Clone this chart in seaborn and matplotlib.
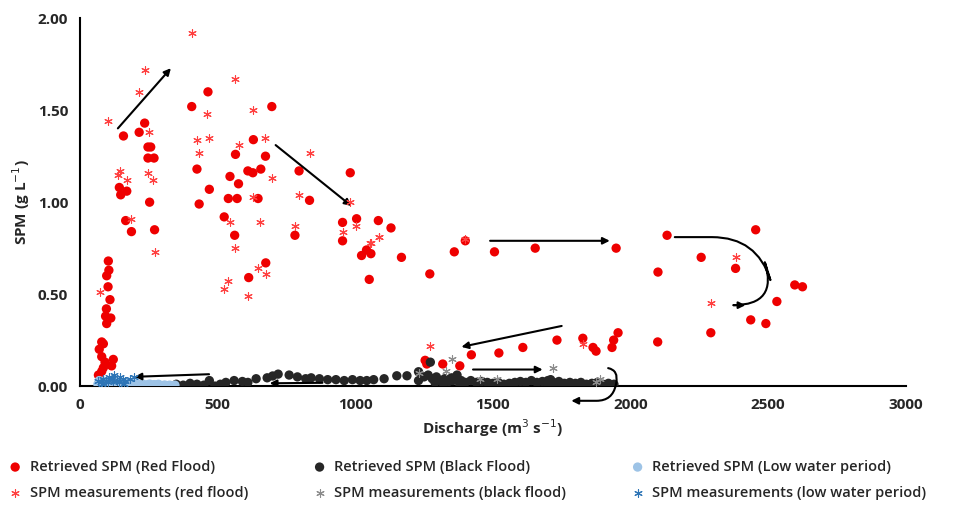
import numpy as np
import pandas as pd
import matplotlib
matplotlib.use('Agg')
import matplotlib.pyplot as plt
import seaborn as sns

# Retrieved SPM (Red Flood)
red_x = [158, 215, 235, 247, 257, 247, 269, 253, 271, 143, 148, 170, 166, 187,
         406, 465, 425, 433, 470, 524, 545, 539, 571, 576, 565, 562, 610, 628, 630,
         657, 674, 647, 697, 675, 613, 796, 834, 781, 982, 954, 954, 1005, 1084,
         1023, 1041, 1057, 1051, 1130, 1168, 1271, 1360, 1400, 1506, 1654, 1948,
         2133, 2100, 2455, 2257, 2382, 2597, 2625, 2532, 2437, 2492, 2292, 2099,
         1254, 1260, 1318, 1380, 1422, 1522, 1609, 1733, 1827, 1864, 1875, 1933,
         1939, 1955,
         103, 105, 97, 102, 109, 96, 93, 112, 97, 79, 85, 70, 79, 91, 121, 115, 79, 85, 67]
red_y = [1.36, 1.38, 1.43, 1.30, 1.30, 1.24, 1.24, 1.00, 0.85, 1.08, 1.04, 1.06, 0.90, 0.84,
         1.52, 1.60, 1.18, 0.99, 1.07, 0.92, 1.14, 1.02, 1.02, 1.10, 1.26, 0.82, 1.17, 1.16, 1.34,
         1.18, 1.25, 1.02, 1.52, 0.67, 0.59, 1.17, 1.01, 0.82, 1.16, 0.89, 0.79, 0.91, 0.90,
         0.71, 0.74, 0.72, 0.58, 0.86, 0.70, 0.61, 0.73, 0.79, 0.73, 0.75, 0.75,
         0.82, 0.62, 0.85, 0.70, 0.64, 0.55, 0.54, 0.46, 0.36, 0.34, 0.29, 0.24,
         0.14, 0.12, 0.12, 0.11, 0.17, 0.18, 0.21, 0.25, 0.26, 0.21, 0.19, 0.21,
         0.25, 0.29,
         0.68, 0.63, 0.60, 0.54, 0.47, 0.42, 0.38, 0.37, 0.34, 0.24, 0.23, 0.20, 0.16, 0.13,
         0.145, 0.11, 0.08, 0.10, 0.06]

# SPM measurements (red flood)
redm_x = [103, 213, 235, 406, 250, 248, 267, 139, 145, 170, 187, 271, 73, 463, 468,
          425, 432, 562, 576, 629, 673, 697, 628, 545, 655, 562, 539, 522, 648, 675,
          612, 834, 796, 781, 982, 954, 1004, 1057, 1085, 1055, 1088, 1400, 1273,
          1826, 2382, 2291]
redm_y = [1.44, 1.60, 1.72, 1.92, 1.38, 1.16, 1.12, 1.15, 1.17, 1.12, 0.91, 0.73, 0.51,
          1.48, 1.35, 1.34, 1.27, 1.67, 1.31, 1.50, 1.35, 1.13, 1.03, 0.89, 0.89, 0.75,
          0.57, 0.53, 0.64, 0.61, 0.49, 1.27, 1.04, 0.87, 1.00, 0.84, 0.87, 0.78, 0.81,
          0.78, 0.81, 0.80, 0.22, 0.23, 0.70, 0.45]

# Retrieved SPM (Black Flood)
black_x = [350, 375, 400, 425, 450, 470, 490, 510, 530, 560, 590, 610, 640, 680, 700,
           720, 760, 790, 820, 840, 870, 900, 930, 960, 990, 1018, 1042, 1067, 1105, 1151,
           1188, 1230, 1230, 1250, 1273, 1265, 1280, 1295, 1310, 1325, 1340, 1355, 1370,
           1385, 1400, 1420, 1440, 1460, 1480, 1500, 1520, 1540, 1560, 1580, 1600, 1620,
           1640, 1660, 1680, 1700, 1720, 1740, 1760, 1780, 1800, 1820, 1840, 1860, 1880,
           1900, 1920, 1940, 1290, 1320, 1350, 1380, 1700, 1710, 1730, 1850, 1870, 1910]
black_y = [0.01, 0.005, 0.015, 0.01, 0.005, 0.03, 0.00, 0.01, 0.02, 0.03, 0.025, 0.02,
           0.04, 0.045, 0.055, 0.065, 0.06, 0.05, 0.04, 0.045, 0.04, 0.035, 0.035, 0.03,
           0.035, 0.03, 0.03, 0.035, 0.04, 0.056, 0.056, 0.078, 0.03, 0.05, 0.13, 0.06,
           0.04, 0.05, 0.03, 0.04, 0.025, 0.03, 0.06, 0.03, 0.02, 0.03, 0.02, 0.025,
           0.02, 0.015, 0.02, 0.01, 0.015, 0.02, 0.025, 0.02, 0.03, 0.02, 0.025, 0.03,
           0.02, 0.025, 0.015, 0.02, 0.015, 0.02, 0.01, 0.015, 0.02, 0.01, 0.015, 0.01,
           0.02, 0.015, 0.045, 0.01, 0.01, 0.035, 0.005, 0.005, 0.01, 0.005]

# SPM measurements (black flood)
blackm_x = [1351, 1233, 1331, 1454, 1514, 1717, 1891, 1875]
blackm_y = [0.145, 0.07, 0.08, 0.036, 0.04, 0.10, 0.04, 0.02]

# Retrieved SPM (Low water period)
low_x = [65, 75, 85, 95, 105, 115, 125, 135, 145, 155, 165, 175, 185, 195, 205, 215,
         225, 235, 245, 255, 265, 275, 285, 295, 305, 315, 325, 335, 345, 70, 90, 110,
         130, 150, 170, 190, 210, 230, 250, 270, 290, 310, 330]
low_y = [0.01, 0.02, 0.0, 0.015, 0.01, 0.02, 0.005, 0.01, 0.015, 0.0, 0.01, 0.005,
         0.01, 0.0, 0.01, 0.005, 0.01, 0.0, 0.005, 0.01, 0.0, 0.005, 0.01, 0.0, 0.005,
         0.0, 0.005, 0.0, 0.005, 0.03, 0.025, 0.03, 0.02, 0.02, 0.015, 0.015, 0.012,
         0.01, 0.01, 0.008, 0.005, 0.005, 0.003]

# SPM measurements (low water period)
lowm_x = [65, 75, 85, 95, 105, 115, 125, 135, 145, 155, 165, 180, 195, 80, 100, 120, 140, 160]
lowm_y = [0.03, 0.02, 0.04, 0.03, 0.05, 0.04, 0.06, 0.03, 0.05, 0.04, 0.03, 0.04, 0.05,
          0.01, 0.02, 0.03, 0.02, 0.01]

sns.set_style('white')
plt.rcParams['font.family'] = ['Open Sans', 'DejaVu Sans']

fig = plt.figure(figsize=(9.59, 5.08), dpi=100)
ax = fig.add_axes([0.0834, 0.240, 0.861, 0.724])

star = (6, 2, 0)
sns.scatterplot(x=red_x, y=red_y, ax=ax, color='#ee0000', s=45, edgecolor='none',
                label='Retrieved SPM (Red Flood)', zorder=3)
sns.scatterplot(x=black_x, y=black_y, ax=ax, color='#262626', s=45, edgecolor='none',
                label='Retrieved SPM (Black Flood)', zorder=3)
sns.scatterplot(x=low_x, y=low_y, ax=ax, color='#9dc3e6', s=45, edgecolor='none',
                label='Retrieved SPM (Low water period)', zorder=3)
sns.scatterplot(x=redm_x, y=redm_y, ax=ax, color='#ff4040', s=30, marker=star,
                linewidth=0.8, label='SPM measurements (red flood)', zorder=4)
sns.scatterplot(x=blackm_x, y=blackm_y, ax=ax, color='#8c8c8c', s=30, marker=star,
                linewidth=0.8, label='SPM measurements (black flood)', zorder=4)
sns.scatterplot(x=lowm_x, y=lowm_y, ax=ax, color='#2e75b6', s=30, marker=star,
                linewidth=0.8, label='SPM measurements (low water period)', zorder=4)

arr = dict(arrowstyle='-|>', color='black', lw=1.5, mutation_scale=10)
straight = [((131, 1.39), (337, 1.74)), ((703, 1.32), (994, 0.97)),
            ((1480, 0.79), (1935, 0.79)), ((1760, 0.33), (1376, 0.21)),
            ((1418, 0.09), (1691, 0.09)), ((479, 0.065), (188, 0.05)),
            ((891, 0.018), (679, 0.015))]
for start, end in straight:
    ax.annotate('', xy=end, xytext=start, arrowprops=arr, annotation_clip=False)
# looping arrows
ax.annotate('', xy=(2428, 0.44), xytext=(2151, 0.81), annotation_clip=False,
            arrowprops=dict(arr, connectionstyle='arc,angleA=0,angleB=0,armA=85,armB=30,rad=45'))
ax.annotate('', xy=(1775, -0.08), xytext=(1909, 0.10), annotation_clip=False,
            arrowprops=dict(arr, connectionstyle='arc,angleA=0,angleB=0,armA=14,armB=44,rad=16'))

ax.set_xlim(0, 3000)
ax.set_ylim(0, 2.0)
ax.set_xticks(np.arange(0, 3001, 500))
ax.set_yticks(np.arange(0, 2.01, 0.5))
ax.set_yticklabels([f'{v:.2f}' for v in np.arange(0, 2.01, 0.5)])
sns.despine(ax=ax)
for sp in ['left', 'bottom']:
    ax.spines[sp].set_color('black')
    ax.spines[sp].set_linewidth(1.5)
ax.tick_params(direction='inout', length=10, width=1.5, labelsize=11)
for lab in ax.get_xticklabels() + ax.get_yticklabels():
    lab.set_fontweight('bold')
ax.set_xlabel('Discharge (m$^3$ s$^{-1}$)', fontsize=11, fontweight='bold')
ax.set_ylabel('SPM (g L$^{-1}$)', fontsize=11, fontweight='bold')

# row-wise legend order: retrieved on top row, measurements below
handles, labels = ax.get_legend_handles_labels()
order = [0, 3, 1, 4, 2, 5]
ax.legend([handles[i] for i in order], [labels[i] for i in order],
          loc='upper left', bbox_to_anchor=(-0.105, -0.165), ncol=3, frameon=False,
          columnspacing=4.3, handletextpad=0.4, handlelength=1.2, labelspacing=0.85,
          prop={'weight': 'semibold', 'size': 10.5})

fig.savefig('out.png', dpi=100)
